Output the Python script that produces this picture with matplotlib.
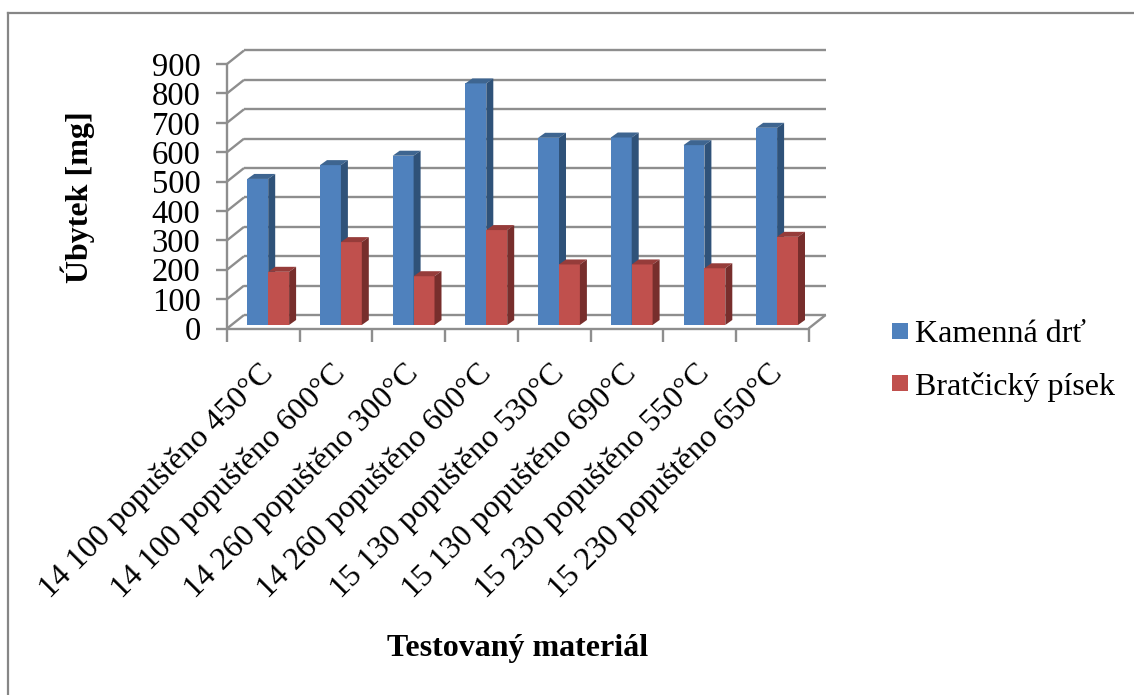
import matplotlib
matplotlib.use("Agg")
import matplotlib.pyplot as plt
from matplotlib.patches import Polygon, Rectangle
from matplotlib.lines import Line2D

categories = ["14 100 popuštěno 450°C", "14 100 popuštěno 600°C", "14 260 popuštěno 300°C",
              "14 260 popuštěno 600°C", "15 130 popuštěno 530°C", "15 130 popuštěno 690°C",
              "15 230 popuštěno 550°C", "15 230 popuštěno 650°C"]
kamenna = [497, 544, 576, 822, 637, 638, 612, 671]
bratcicky = [181, 282, 166, 323, 206, 206, 193, 300]
series_names = ["Kamenná drť", "Bratčický písek"]
y_ticks = list(range(0, 1000, 100))

W, H = 1134, 695
plt.rcParams['font.family'] = ['Liberation Serif', 'DejaVu Serif']
fig = plt.figure(figsize=(W / 100, H / 100), dpi=100, facecolor='white')

# outer chart frame
GREY = '#868686'
fig.add_artist(Line2D([7.5 / W, 7.5 / W], [0, 1 - 12.5 / H], color=GREY, lw=1.6))
fig.add_artist(Line2D([7.5 / W, 1], [1 - 12.5 / H, 1 - 12.5 / H], color=GREY, lw=1.6))

# axes = front plane of the 3-D box
left, right, top, bottom = 227.0, 808.6, 64.0, 328.5
ax = fig.add_axes([left / W, 1 - bottom / H, (right - left) / W, (bottom - top) / H])
ax.set_xlim(0, 8)
ax.set_ylim(0, 900)
ax.patch.set_visible(False)
for s in ax.spines.values():
    s.set_visible(False)

px_x = 8 / (right - left)          # data units per pixel
px_y = 900 / (bottom - top)
back_dx, back_dy = 17 * px_x, 13.5 * px_y

LINE = '#8e8e8e'
LW = 1.7
kw = dict(color=LINE, lw=LW, clip_on=False, zorder=1, solid_capstyle='butt')
for v in y_ticks:
    ax.plot([0, back_dx], [v, v + back_dy], **kw)
    ax.plot([back_dx, 8 + back_dx], [v + back_dy, v + back_dy], **kw)
ax.plot([0, 0], [0, 900], **kw)
ax.plot([0, 8], [0, 0], **kw)
ax.plot([8, 8 + back_dx], [0, back_dy], **kw)

ax.set_xticks(range(9))
ax.set_xticklabels([])
ax.set_yticks(y_ticks)
ax.set_yticklabels([str(v) for v in y_ticks], fontsize=23.5, color='black')
ax.tick_params(axis='y', length=8, width=LW, color=LINE, pad=11)
ax.tick_params(axis='x', length=9, width=LW, color=LINE)

# category labels, rotated, ending at a point under each category
for i, c in enumerate(categories):
    ax.annotate(c, xy=(i + 0.5, 0), xytext=(-5, -30), textcoords='offset pixels',
                rotation=45, ha='right', va='top', rotation_mode='anchor',
                fontsize=23, color='black', annotation_clip=False)

# 3-D bars
base = 3.5 * px_y
bw = 20.9 * px_x
off = 20.3 * px_x
ddx, ddy = 7 * px_x, 5 * px_y
styles = [('#4f81bd', '#3e6590', '#2f5279'), ('#c0504d', '#963c3a', '#772e2c')]


def bars(xs, vals, front, topc, side, z):
    ax.bar(xs, vals, width=bw, bottom=base, align='edge', color=front, zorder=z, clip_on=False)
    for x, v in zip(xs, vals):
        y1 = base + v
        ax.add_patch(Polygon([(x, y1), (x + bw, y1), (x + bw + ddx, y1 + ddy), (x + ddx, y1 + ddy)],
                             closed=True, fc=topc, ec='none', zorder=z, clip_on=False))
        ax.add_patch(Polygon([(x + bw, base), (x + bw + ddx, base + ddy),
                              (x + bw + ddx, y1 + ddy), (x + bw, y1)],
                             closed=True, fc=side, ec='none', zorder=z, clip_on=False))


pos = list(range(len(categories)))
bars([i + off for i in pos], kamenna, *styles[0], 3)
bars([i + off + bw for i in pos], bratcicky, *styles[1], 4)

# axis titles
fig.text(78 / W, 1 - 197 / H, "Úbytek [mg]", rotation=90, ha='center', va='center',
         fontsize=23, fontweight='bold')
fig.text(518 / W, 1 - 648.5 / H, "Testovaný materiál", ha='center', va='center',
         fontsize=23, fontweight='bold')

# legend
for name, (c, _, _), yc in zip(series_names, styles, (331, 383)):
    fig.add_artist(Rectangle((892 / W, 1 - (yc + 8) / H), 16 / W, 16 / H, fc=c, ec='none',
                             transform=fig.transFigure))
    fig.text(915 / W, 1 - (yc + 3.5) / H, name, ha='left', va='center', fontsize=23)

fig.savefig('out.png', dpi=100, facecolor='white')
